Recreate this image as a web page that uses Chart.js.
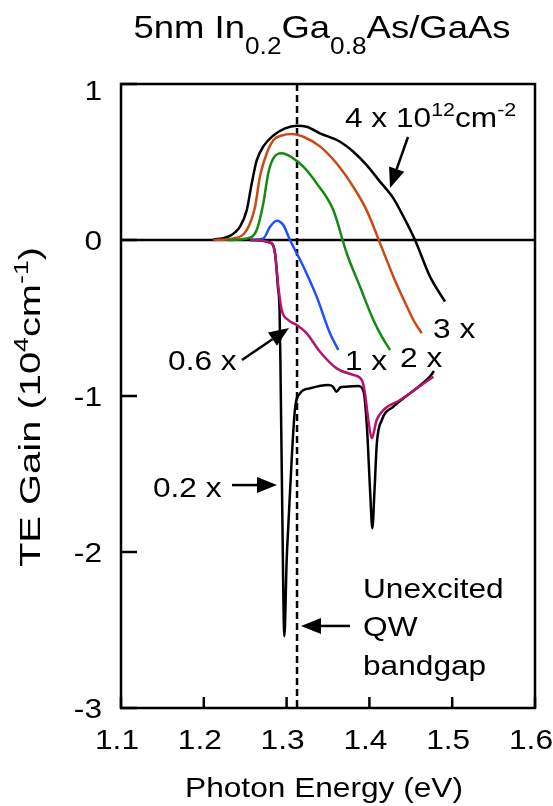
<!DOCTYPE html>
<html>
<head>
<meta charset="utf-8">
<script src="https://cdn.jsdelivr.net/npm/chart.js@4.4.0/dist/chart.umd.min.js"></script>
<style>
  html, body { margin: 0; padding: 0; background: #fff; }
  canvas { display: block; }
</style>
</head>
<body>
<canvas id="gainChart" width="553" height="806"></canvas>
<script>
// TE gain spectra, [photon energy (eV), gain (10^4 cm^-1)] for each carrier density
const gain4x = [[1.2115,0.005],[1.2236,0.012],[1.2316,0.026],[1.2380,0.05],[1.2437,0.085],[1.2518,0.19],[1.2578,0.36],[1.2639,0.51],[1.2719,0.60],[1.2840,0.67],[1.2981,0.716],[1.3122,0.733],[1.3243,0.726],[1.3403,0.684],[1.3645,0.63],[1.3806,0.566],[1.3967,0.48],[1.4128,0.374],[1.4290,0.267],[1.4411,0.15],[1.4551,0],[1.4732,-0.235],[1.4913,-0.395]];
const gain3x = [[1.2115,0],[1.2356,0.01],[1.2518,0.064],[1.2618,0.21],[1.2679,0.41],[1.2760,0.556],[1.2840,0.64],[1.2941,0.67],[1.3062,0.68],[1.3202,0.662],[1.3403,0.60],[1.3605,0.49],[1.3806,0.34],[1.3967,0.19],[1.4128,-0.02],[1.4290,-0.235],[1.4430,-0.40],[1.4531,-0.513],[1.4632,-0.598]];
const gain2x = [[1.2277,0],[1.2518,0.01],[1.2639,0.064],[1.2719,0.235],[1.2779,0.43],[1.2840,0.524],[1.2941,0.556],[1.3062,0.53],[1.3202,0.47],[1.3363,0.363],[1.3564,0.192],[1.3726,-0.085],[1.3887,-0.30],[1.4048,-0.513],[1.4150,-0.62],[1.4249,-0.705]];
const gain1x = [[1.2558,0],[1.2719,0.01],[1.2800,0.085],[1.2880,0.124],[1.2960,0.096],[1.3041,0],[1.3202,-0.17],[1.3363,-0.363],[1.3524,-0.598],[1.3625,-0.705]];
const gain06x = [[1.2558,0],[1.2800,-0.017],[1.2860,-0.085],[1.2900,-0.30],[1.2941,-0.449],[1.3021,-0.513],[1.3122,-0.545],[1.3243,-0.598],[1.3403,-0.716],[1.3605,-0.823],[1.3806,-0.865],[1.3907,-0.897],[1.3947,-0.983],[1.3987,-1.154],[1.4028,-1.271],[1.4088,-1.154],[1.4169,-1.09],[1.4370,-1.026],[1.4571,-0.951],[1.4773,-0.876]];
const gain02x = [[1.2558,0],[1.2800,-0.017],[1.2860,-0.085],[1.2895,-0.30],[1.2915,-0.45],[1.2925,-0.77],[1.2945,-1.62],[1.2973,-2.54],[1.3001,-2.05],[1.3020,-1.84],[1.3061,-1.41],[1.3100,-1.09],[1.3162,-0.983],[1.3280,-0.951],[1.3500,-0.929],[1.3560,-0.94],[1.3600,-0.972],[1.3650,-0.945],[1.3710,-0.94],[1.3870,-0.936],[1.3930,-0.972],[1.3970,-1.197],[1.4010,-1.624],[1.4036,-1.848],[1.4060,-1.624],[1.4090,-1.303],[1.4150,-1.154],[1.4290,-1.068],[1.4490,-0.983],[1.4730,-0.876],[1.4780,-0.84]];

const xTicks = [1.1, 1.2, 1.3, 1.4, 1.5, 1.6];
const yTicks = [-3, -2, -1, 0, 1];
const bandgapEnergy = 1.3126;   // unexcited QW bandgap

const FONT = '"Liberation Sans", Arial, sans-serif';
const LABEL = { big: 28, small: 19, sx: 1.13, up: -11, down: 8 };
const TITLE = { big: 32, small: 23, sx: 1.14, up: -12, down: 16 };
const YTITLE = { big: 30, small: 20, sx: 1.33, up: -12, down: 9 };

function toXY(pairs) {
  return pairs.map(p => ({ x: p[0], y: p[1] }));
}

// draws text made of [string, shift] pieces: shift 1 = superscript, -1 = subscript
function drawRich(ctx, parts, x, y, align, st = LABEL) {
  let total = 0;
  const widths = parts.map(([s, k]) => {
    ctx.font = (k ? st.small : st.big) + 'px ' + FONT;
    const w = ctx.measureText(s).width;
    total += w;
    return w;
  });
  let start = x;
  if (align === 'center') start = x - total * st.sx / 2;
  if (align === 'right') start = x - total * st.sx;
  ctx.save();
  ctx.translate(start, y);
  ctx.scale(st.sx, 1);
  ctx.textAlign = 'left';
  ctx.textBaseline = 'alphabetic';
  ctx.fillStyle = '#000';
  let cx = 0;
  parts.forEach(([s, k], i) => {
    ctx.font = (k ? st.small : st.big) + 'px ' + FONT;
    const dy = k === 1 ? st.up : (k === -1 ? st.down : 0);
    ctx.fillText(s, cx, dy);
    cx += widths[i];
  });
  ctx.restore();
}

function arrow(ctx, x1, y1, x2, y2) {
  const ang = Math.atan2(y2 - y1, x2 - x1);
  const len = 20, half = 8;
  const bx = x2 - len * Math.cos(ang), by = y2 - len * Math.sin(ang);
  ctx.beginPath();
  ctx.moveTo(x1, y1);
  ctx.lineTo(bx, by);
  ctx.stroke();
  ctx.beginPath();
  ctx.moveTo(x2, y2);
  ctx.lineTo(bx + half * Math.sin(ang), by - half * Math.cos(ang));
  ctx.lineTo(bx - half * Math.sin(ang), by + half * Math.cos(ang));
  ctx.closePath();
  ctx.fill();
}

const gainDecor = {
  id: 'gainDecor',
  beforeDatasetsDraw(chart) {
    const { ctx, chartArea: a, scales: { x, y } } = chart;
    ctx.save();
    ctx.strokeStyle = '#000';
    ctx.lineWidth = 2.5;
    // zero gain line
    const y0 = y.getPixelForValue(0);
    ctx.beginPath();
    ctx.moveTo(a.left, y0);
    ctx.lineTo(a.right, y0);
    ctx.stroke();
    // dashed bandgap marker
    const xb = x.getPixelForValue(bandgapEnergy);
    ctx.setLineDash([7, 4]);
    ctx.beginPath();
    ctx.moveTo(xb, a.top);
    ctx.lineTo(xb, a.bottom);
    ctx.stroke();
    ctx.restore();
  },
  afterDatasetsDraw(chart) {
    const { ctx, chartArea: a, scales: { x, y } } = chart;
    ctx.save();
    ctx.strokeStyle = '#000';
    ctx.fillStyle = '#000';
    ctx.lineWidth = 2.5;
    ctx.strokeRect(a.left, a.top, a.right - a.left, a.bottom - a.top);

    // inward tick marks + labels
    x.ticks.forEach(t => {
      const px = x.getPixelForValue(t.value);
      ctx.beginPath();
      ctx.moveTo(px, a.bottom);
      ctx.lineTo(px, a.bottom - 11);
      ctx.stroke();
      drawRich(ctx, [[t.value.toFixed(1), 0]], px - 4, a.bottom + 41, 'center');
    });
    y.ticks.forEach(t => {
      const py = y.getPixelForValue(t.value);
      ctx.beginPath();
      ctx.moveTo(a.left, py);
      ctx.lineTo(a.left + 16, py);
      ctx.stroke();
      const shift = t.value === 1 ? 6 : 0;
      drawRich(ctx, [[String(t.value), 0]], a.left - 19, py + 10 + shift, 'right');
    });

    // titles
    drawRich(ctx, [['5nm In', 0], ['0.2', -1], ['Ga', 0], ['0.8', -1], ['As/GaAs', 0]], 322, 38, 'center', TITLE);
    drawRich(ctx, [['Photon Energy (eV)', 0]], 324, 797, 'center');
    ctx.save();
    ctx.translate(40, 407);
    ctx.rotate(-Math.PI / 2);
    drawRich(ctx, [['TE Gain (10', 0], ['4', 1], ['cm', 0], ['-1', 1], [')', 0]], 0, 0, 'center', YTITLE);
    ctx.restore();

    // curve labels and pointers
    const P = (ex, g) => [x.getPixelForValue(ex), y.getPixelForValue(g)];
    const at = (ex, g, parts) => { const [px, py] = P(ex, g); drawRich(ctx, parts, px, py, 'left'); };
    const pointer = (e1, g1, e2, g2) => { const [x1, y1] = P(e1, g1); const [x2, y2] = P(e2, g2); arrow(ctx, x1, y1, x2, y2); };

    at(1.3705, 0.724, [['4 x 10', 0], ['12', 1], ['cm', 0], ['-2', 1]]);
    pointer(1.4466, 0.660, 1.4249, 0.333);
    at(1.4768, -0.628, [['3 x', 0]]);
    at(1.4370, -0.814, [['2 x', 0]]);
    at(1.3705, -0.833, [['1 x', 0]]);
    at(1.1568, -0.833, [['0.6 x', 0]]);
    pointer(1.2461, -0.769, 1.3029, -0.564);
    at(1.1386, -1.647, [['0.2 x', 0]]);
    pointer(1.2341, -1.571, 1.2884, -1.571);
    at(1.3923, -2.295, [['Unexcited', 0]]);
    at(1.3923, -2.538, [['QW', 0]]);
    at(1.3923, -2.788, [['bandgap', 0]]);
    pointer(1.3766, -2.474, 1.3174, -2.474);
    ctx.restore();
  }
};

function series(pairs, color) {
  return {
    data: toXY(pairs),
    borderColor: color,
    borderWidth: 2.5,
    pointRadius: 0,
    fill: false,
    cubicInterpolationMode: 'monotone'
  };
}

new Chart(document.getElementById('gainChart'), {
  type: 'line',
  data: {
    datasets: [
      series(gain06x, '#b8126f'),
      series(gain1x, '#1f4fff'),
      series(gain2x, '#148a14'),
      series(gain3x, '#c84b16'),
      series(gain4x, '#000000'),
      series(gain02x, '#000000')
    ]
  },
  options: {
    responsive: false,
    animation: false,
    devicePixelRatio: 1,
    layout: { padding: { left: 121, right: 18, top: 84, bottom: 98 } },
    plugins: { legend: { display: false }, tooltip: { enabled: false } },
    scales: {
      x: {
        type: 'linear', min: 1.1, max: 1.6,
        afterBuildTicks: s => { s.ticks = xTicks.map(v => ({ value: v })); },
        afterFit: s => { s.height = 0; },
        ticks: { display: false },
        grid: { display: false },
        border: { display: false }
      },
      y: {
        type: 'linear', min: -3, max: 1,
        afterBuildTicks: s => { s.ticks = yTicks.map(v => ({ value: v })); },
        afterFit: s => { s.width = 0; },
        ticks: { display: false },
        grid: { display: false },
        border: { display: false }
      }
    }
  },
  plugins: [gainDecor]
});
</script>
</body>
</html>
